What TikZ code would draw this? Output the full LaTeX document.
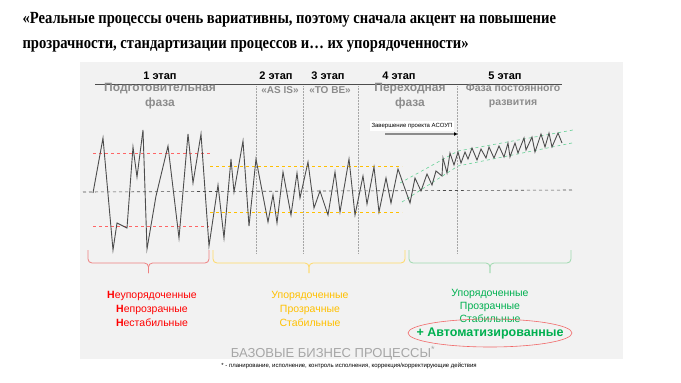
\documentclass[tikz,border=0pt]{standalone}
\usepackage{fontspec}
\setmainfont{Liberation Serif}
\setsansfont{Liberation Sans}
\newfontfamily\titlefont[FakeStretch=0.86]{Liberation Serif}
\usetikzlibrary{arrows.meta,positioning}
\definecolor{panel}{HTML}{F2F2F2}
\definecolor{dkgray}{HTML}{4D4D4D}
\definecolor{midgray}{HTML}{8C8C8C}
\definecolor{ltgray}{HTML}{A6A6A6}
\definecolor{bad}{HTML}{FF0000}
\definecolor{ok}{HTML}{FFC000}
\definecolor{good}{HTML}{00B050}
\definecolor{bracered}{HTML}{EE8080}
\definecolor{braceyel}{HTML}{FFD966}
\definecolor{bracegrn}{HTML}{9ED9AE}

\begin{document}
\begin{tikzpicture}[x=1pt,y=-1pt,
    stage/.style={font=\sffamily\bfseries\fontsize{11}{11}\selectfont,anchor=base},
    phase/.style={font=\sffamily\bfseries\fontsize{12}{15}\selectfont,text=midgray,align=center,anchor=north},
    quote/.style={font=\sffamily\bfseries\fontsize{10}{10}\selectfont,text=midgray,anchor=base},
    lvl/.style={dashed,line width=0.6pt},
    vsep/.style={densely dotted,ltgray,line width=0.5pt},
    state/.style={font=\sffamily\fontsize{10.5}{14}\selectfont,align=center},
    bracket/.style={rounded corners=4pt,line width=0.8pt}]
  \useasboundingbox (0,0) rectangle (681,383);
  \fill[panel] (80,62) rectangle (623,359);
  % title
  \node[anchor=base west,font=\titlefont\bfseries\fontsize{17}{17}\selectfont] (title1) at (19,23) {«Реальные процессы очень вариативны, поэтому сначала акцент на повышение};
  \node[anchor=base west,font=\titlefont\bfseries\fontsize{17}{17}\selectfont] (title2) at (19,48) {прозрачности, стандартизации процессов и… их упорядоченности»};
  % stages
  \draw[dkgray,line width=0.8pt] (95,84) -- (562,84);
  \foreach \x/\n in {160/1,276/2,328/3,399/4,505/5}
    {\node[stage] (stage\n) at (\x,79) {\n\ этап};}
  \node[phase] (phase1) at (160,80) {Подготовительная\\фаза};
  \node[quote] (phase2) at (280,93) {«AS IS»};
  \node[quote] (phase3) at (330,93) {«TO BE»};
  \node[phase] (phase4) at (410,80) {Переходная\\фаза};
  \node[phase,font=\sffamily\bfseries\fontsize{10.5}{14}\selectfont] (phase5) at (513,81) {Фаза постоянного\\развития};
  \foreach \x in {256,303,358,457} {\draw[vsep] (\x,86) -- (\x,254);}
  % levels
  \draw[lvl,dkgray] (83,192) -- (573,190);
  \draw[lvl,bad!60] (93,153) -- (210,153);\draw[lvl,bad!60] (93,226) -- (209,226);
  \draw[lvl,ok] (210,166) -- (402,166);\draw[lvl,ok] (210,212) -- (402,212);
  \draw[lvl,good!60] (402,202) -- (458,166) -- (572,143);
  \draw[lvl,good!60] (400,183) -- (458,151) -- (573,130);
  % process signal
  \draw[dkgray,line width=0.9pt,line join=miter] plot coordinates {(93,193) (103,138) (113,250) (117,223) (127,228) (133,147) (137,177) (143,130) (147,249) (156,196) (168,146) (179,238) (188,134) (193,183) (201,134) (209,246) (218,185) (224,238) (231,159) (234,192) (243,141) (249,226) (256,159) (268,222) (273,195) (277,223) (283,172) (291,215) (297,173) (300,198) (308,162) (314,208) (320,191) (328,215) (335,172) (340,212) (349,159) (355,215) (363,176) (367,204) (374,167) (379,212) (386,178) (391,203) (398,169) (410,203) (415,178) (421,191) (427,174) (432,185) (436,171) (442,176) (443,158) (447,173) (450,153) (454,165) (458,152) (461,163) (465,152) (468,159) (472,148) (477,160) (481,149) (486,158) (489,147) (494,158) (499,146) (504,157) (508,143) (510,157) (515,143) (518,153) (524,138) (526,150) (532,137) (535,152) (541,134) (545,147) (549,133) (552,147) (558,133) (562,143)};
  % project end
  \node[fill=white,inner sep=2pt,font=\sffamily\fontsize{6}{6}\selectfont] (asoup) at (412,126) {Завершение проекта АСОУП};
  \coordinate (arrowstart) at (385,134);
  \coordinate (arrowend) at (458,134);
  \draw[midgray,line width=1.5pt,-{Latex[length=4pt,width=4pt,color=black]}] (arrowstart) -- (arrowend);
  % brackets
  \foreach \l/\r/\c in {88/209/bracered,213/405/braceyel,409/571/bracegrn}
    {\draw[bracket,\c] (\l,250) -- (\l,263) -- ({(\l+\r)/2},263) -- ({(\l+\r)/2},273);
     \draw[bracket,\c] (\r,250) -- (\r,263) -- ({(\l+\r)/2},263) -- ({(\l+\r)/2},273);}
  \node[state,text=bad,anchor=north] (bad) at (152,288) {\textbf{Н}еупорядоченные\\\textbf{Н}епрозрачные\\\textbf{Н}естабильные};
  \node[state,text=ok,anchor=north] (ok) at (310,288) {Упорядоченные\\Прозрачные\\Стабильные};
  \node[state,text=good,anchor=north,font=\sffamily\fontsize{10.5}{13}\selectfont] (good) at (490,286) {Упорядоченные\\Прозрачные\\Стабильные};
  \node[text=good,font=\sffamily\bfseries\fontsize{12.5}{12.5}\selectfont] (auto) at (490,333) {+ Автоматизированные};
  \draw[bracered!80!red,line width=0.6pt] (auto.center) ellipse [x radius=82,y radius=14];
  % footer
  \node[text=ltgray,font=\sffamily\fontsize{13}{13}\selectfont] (base) at (333,353) {БАЗОВЫЕ БИЗНЕС ПРОЦЕССЫ\textsuperscript{*}};
  \node[font=\sffamily\fontsize{6}{6}\selectfont] (note) at (349,366) {* - планирование, исполнение, контроль исполнения, коррекция/корректирующие действия};
\end{tikzpicture}
\end{document}
